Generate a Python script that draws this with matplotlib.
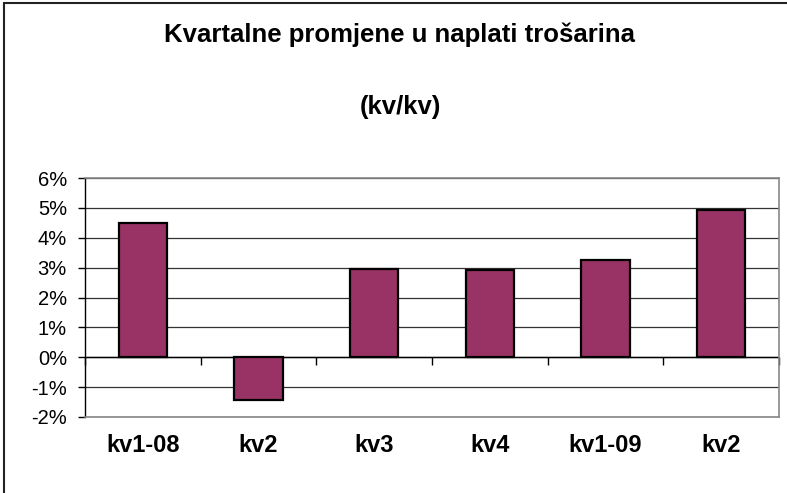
import numpy as np
import matplotlib
matplotlib.use("Agg")
import matplotlib.pyplot as plt
from matplotlib.patches import Rectangle
from matplotlib.ticker import FuncFormatter

categories = ["kv1-08", "kv2", "kv3", "kv4", "kv1-09", "kv2"]
values = [4.50, -1.43, 2.97, 2.93, 3.27, 4.94]
yticks = [-2, -1, 0, 1, 2, 3, 4, 5, 6]

plt.rcParams['font.family'] = ['Liberation Sans', 'DejaVu Sans']

W, H = 787, 493
fig = plt.figure(figsize=(W / 100, H / 100), dpi=100)

# outer chart frame (right/bottom edges fall outside the image)
fig.patches.append(Rectangle((4 / W, -0.1), 1.2, 1 - 3 / H + 0.1,
                             transform=fig.transFigure, fill=False,
                             edgecolor="#222222", linewidth=1.5))

ax = fig.add_axes([85 / W, (H - 417) / H, (779 - 85) / W, (417 - 178) / H])
x = np.arange(len(categories))
ax.bar(x, values, width=0.42, color="#993366", edgecolor="black",
       linewidth=1.6, zorder=3)

ax.set_xlim(-0.5, len(categories) - 0.5)
ax.set_ylim(yticks[0], yticks[-1])
ax.set_yticks(yticks)
ax.yaxis.set_major_formatter(FuncFormatter(lambda v, p: f"{v:.0f}%"))
ax.yaxis.grid(True, color="#333333", linewidth=0.9, zorder=0)
ax.set_axisbelow(True)

ax.set_xticks(x)
ax.set_xticklabels(categories, fontsize=17, fontweight="bold")
ax.tick_params(axis="x", length=0, pad=12)
ax.tick_params(axis="y", length=5, width=1, direction="out", pad=8,
               labelsize=14.5)

for side in ["top", "right", "bottom"]:
    ax.spines[side].set_color("#888888")
    ax.spines[side].set_linewidth(1.2)
ax.spines["left"].set_color("black")
ax.spines["left"].set_linewidth(1)

# zero line with tick marks between categories
ax.axhline(0, color="black", linewidth=1, zorder=2)
bounds = np.arange(len(categories) + 1) - 0.5
ax.vlines(bounds, -0.25, 0, color="black", linewidth=1, zorder=2, clip_on=False)

fig.text(400 / W, 1 - 42 / H, "Kvartalne promjene u naplati trošarina",
         ha="center", va="baseline", fontsize=18.5, fontweight="bold")
fig.text(400 / W, 1 - 114 / H, "(kv/kv)", ha="center", va="baseline",
         fontsize=18.5, fontweight="bold")

fig.savefig("out.png", dpi=100)
